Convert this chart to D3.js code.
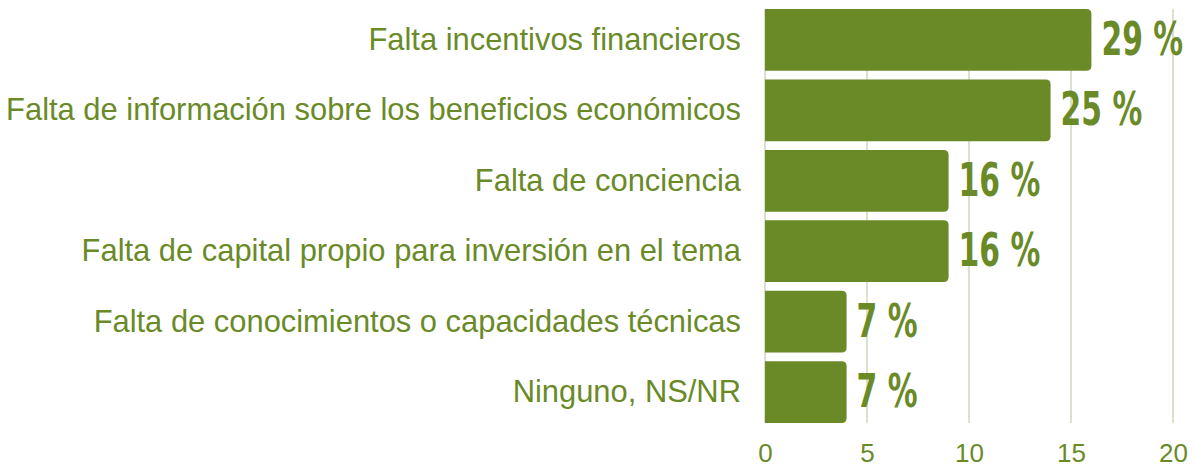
<!DOCTYPE html>
<html>
<head>
<meta charset="utf-8">
<script src="https://cdn.jsdelivr.net/npm/d3@7"></script>
<style>
  body { margin: 0; background: #fff; }
  svg text { font-family: "Liberation Sans", Arial, sans-serif; }
</style>
</head>
<body>
<div id="chart"></div>
<script>
const categories = [
    "Falta incentivos financieros",
    "Falta de información sobre los beneficios económicos",
    "Falta de conciencia",
    "Falta de capital propio para inversión en el tema",
    "Falta de conocimientos o capacidades técnicas",
    "Ninguno, NS/NR"
];
const counts = [16, 14, 9, 9, 4, 4];
const percentLabels = ["29 %", "25 %", "16 %", "16 %", "7 %", "7 %"];
const xTicks = [0, 5, 10, 15, 20];

const green = "#6a8a28";

// dibujar el gráfico
function drawChart() {
    const width = 1196, height = 470;
    const margin = { top: 9, right: 23, bottom: 47, left: 765 };
    const innerW = width - margin.left - margin.right;
    const innerH = height - margin.top - margin.bottom;

    const svg = d3.select("#chart").append("svg")
        .attr("width", width)
        .attr("height", height);

    const g = svg.append("g")
        .attr("transform", `translate(${margin.left},${margin.top})`);

    const x = d3.scaleLinear().domain([0, 20]).range([0, innerW]);
    const y = d3.scaleBand().domain(categories).range([0, innerH])
        .paddingInner(0.124).paddingOuter(0);

    // líneas de cuadrícula
    g.selectAll(".grid")
        .data(xTicks)
        .enter().append("line")
        .attr("class", "grid")
        .attr("x1", d => x(d)).attr("x2", d => x(d))
        .attr("y1", 0).attr("y2", innerH)
        .attr("stroke", "#dbe2cb")
        .attr("stroke-width", 2);

    const data = categories.map((c, i) => ({ cat: c, v: counts[i], label: percentLabels[i] }));
    const r = 5;

    // barras con esquinas derechas redondeadas
    g.selectAll(".bar")
        .data(data)
        .enter().append("path")
        .attr("class", "bar")
        .attr("fill", green)
        .attr("d", d => {
            const x1 = x(d.v), y0 = y(d.cat), h = y.bandwidth();
            return `M0,${y0}H${x1 - r}Q${x1},${y0} ${x1},${y0 + r}V${y0 + h - r}Q${x1},${y0 + h} ${x1 - r},${y0 + h}H0Z`;
        });

    // etiquetas de valor
    g.selectAll(".val")
        .data(data)
        .enter().append("text")
        .attr("class", "val")
        .attr("transform", d => `translate(${x(d.v) + 10},${y(d.cat) + y.bandwidth() / 2 + 15}) scale(0.72,1)`)
        .style("font-family", "'Liberation Sans Narrow', 'DejaVu Sans Condensed', sans-serif")
        .style("font-weight", "bold")
        .style("font-size", "46px")
        .attr("fill", green)
        .text(d => d.label);

    // etiquetas de categoría
    g.selectAll(".cat")
        .data(data)
        .enter().append("text")
        .attr("class", "cat")
        .attr("x", -24)
        .attr("y", d => y(d.cat) + y.bandwidth() / 2)
        .attr("dy", "0.32em")
        .attr("text-anchor", "end")
        .style("font-size", "30.9px")
        .attr("fill", green)
        .text(d => d.cat);

    // eje x
    const xAxis = g.append("g")
        .attr("transform", `translate(0,${innerH})`)
        .call(d3.axisBottom(x).tickValues(xTicks).tickSize(0).tickPadding(21));
    xAxis.select(".domain").remove();
    xAxis.selectAll("text")
        .style("font-size", "26px")
        .style("font-family", "'Liberation Sans', Arial, sans-serif")
        .attr("fill", green);
}

drawChart();
</script>
</body>
</html>
